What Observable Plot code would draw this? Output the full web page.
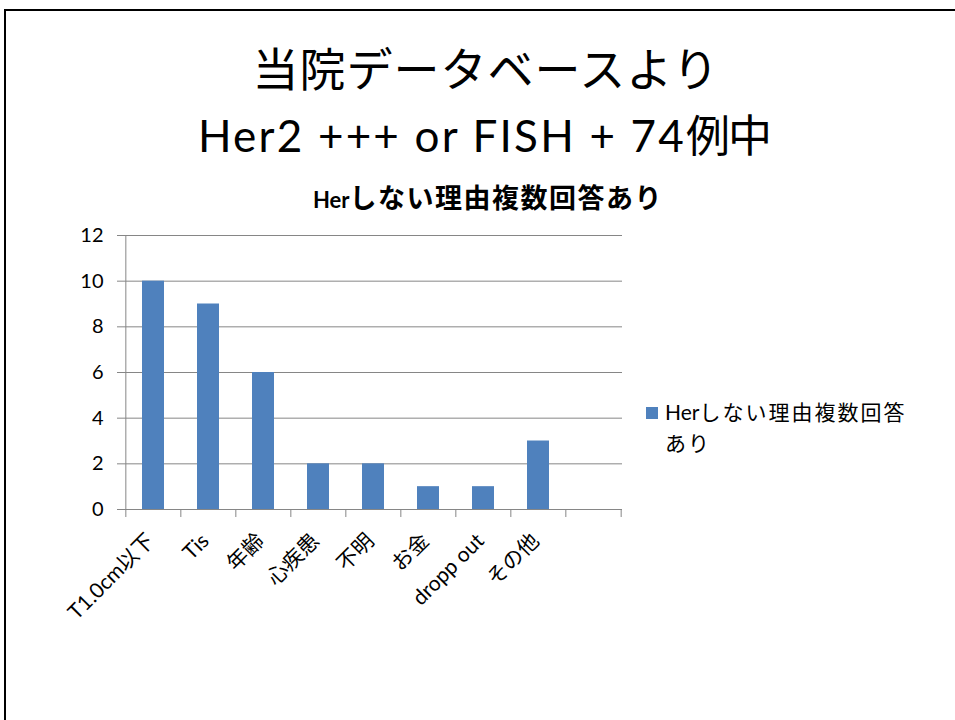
<!DOCTYPE html>
<html>
<head>
<meta charset="utf-8">
<script src="https://cdn.jsdelivr.net/npm/d3@7"></script>
<script src="https://cdn.jsdelivr.net/npm/@observablehq/plot@0.6"></script>
<style>
  html, body { margin: 0; padding: 0; width: 955px; height: 720px; overflow: hidden; background: #fff; }
  body { position: relative; font-family: Lato, "Noto Sans CJK JP", sans-serif; color: #000; }
  #border { position: absolute; left: 4px; top: 9px; width: 1200px; height: 1200px; border: 2px solid #000; box-sizing: border-box; }
  .t { position: absolute; white-space: nowrap; transform: translate(-50%, -50%); }
  .cjk { font-family: "Noto Sans CJK JP", sans-serif; }
  #chart { position: absolute; left: 0; top: 0; }
  #legend { position: absolute; left: 646px; top: 396px; font-size: 21px; line-height: 31px; }
  #legend .sw { position: absolute; left: 0; top: 11px; width: 12px; height: 12px; background: #4F81BD; }
  #legend .lt { position: absolute; left: 19px; top: 0; white-space: nowrap; }
</style>
</head>
<body>
<div id="border"></div>
<div class="t cjk" style="left:486px; top:66px; font-size:46px; letter-spacing:1px;">当院データベースより</div>
<div class="t" style="left:484px; top:133px; font-size:44px; letter-spacing:2.2px;">Her2 +++ or FISH + 74<span class="cjk" style="font-size:44px; letter-spacing:-2px;">例中</span></div>
<div class="t" style="left:488px; top:196px; font-size:22px; font-weight:bold;">Her<span class="cjk" style="font-size:27px; letter-spacing:1.5px; font-weight:bold;">しない理由複数回答あり</span></div>
<div id="chart"></div>
<div id="legend"><div class="sw"></div><div class="lt">Her<span class="cjk" style="letter-spacing:2px;">しない理由複数回答</span><br><span class="cjk" style="letter-spacing:2px;">あり</span></div></div>
<script>
const categories = ["T1.0cm以下", "Tis", "年齢", "心疾患", "不明", "お金", "dropp out", "その他", ""];
const values = [10, 9, 6, 2, 2, 1, 1, 3, null];
const yTicks = [0, 2, 4, 6, 8, 10, 12];
const seriesName = "Herしない理由複数回答あり";

const data = categories.map((c, i) => ({category: c, value: values[i]}));
const W = 955, H = 720;
const mL = 124, mR = 333, mT = 235, mB = 211;
const step = (W - mL - mR) / categories.length;
const gray = "#868686";

const chart = Plot.plot({
  width: W,
  height: H,
  marginLeft: mL,
  marginRight: mR,
  marginTop: mT,
  marginBottom: mB,
  style: {fontFamily: "Lato, 'Noto Sans CJK JP', sans-serif", fontSize: "20px", color: "#000", background: "transparent", overflow: "visible"},
  x: {type: "band", domain: categories, paddingInner: 0.6, paddingOuter: 0.3, label: null},
  y: {domain: [0, 12], label: null},
  marks: [
    Plot.gridY(yTicks, {stroke: gray, strokeOpacity: 1, strokeWidth: 1}),
    Plot.barY(data.filter(d => d.value != null), {x: "category", y: "value", fill: "#4F81BD"}),
    Plot.ruleY([0], {stroke: gray, strokeWidth: 1}),
    // vertical axis line at left edge of plot
    Plot.ruleX(categories.slice(0, 1), {x: d => d, dx: -step / 2, stroke: gray, strokeWidth: 1}),
    // category boundary tick marks
    Plot.ruleX(categories, {x: d => d, dx: -step / 2, stroke: gray, strokeWidth: 1, insetTop: H - mT - mB, insetBottom: -8}),
    Plot.ruleX(categories.slice(-1), {x: d => d, dx: step / 2, stroke: gray, strokeWidth: 1, insetTop: H - mT - mB, insetBottom: -8}),
    Plot.axisY({ticks: yTicks, tickSize: 7, tickPadding: 14, stroke: gray, fill: "#000", fontSize: 20}),
    Plot.axisX({tickSize: 0, tickPadding: 28, tickRotate: -45, dx: -3, fill: "#000", fontSize: 21, fontFamily: "Lato, 'Noto Sans CJK JP', sans-serif", label: null})
  ]
});
document.getElementById("chart").appendChild(chart);
</script>
</body>
</html>
